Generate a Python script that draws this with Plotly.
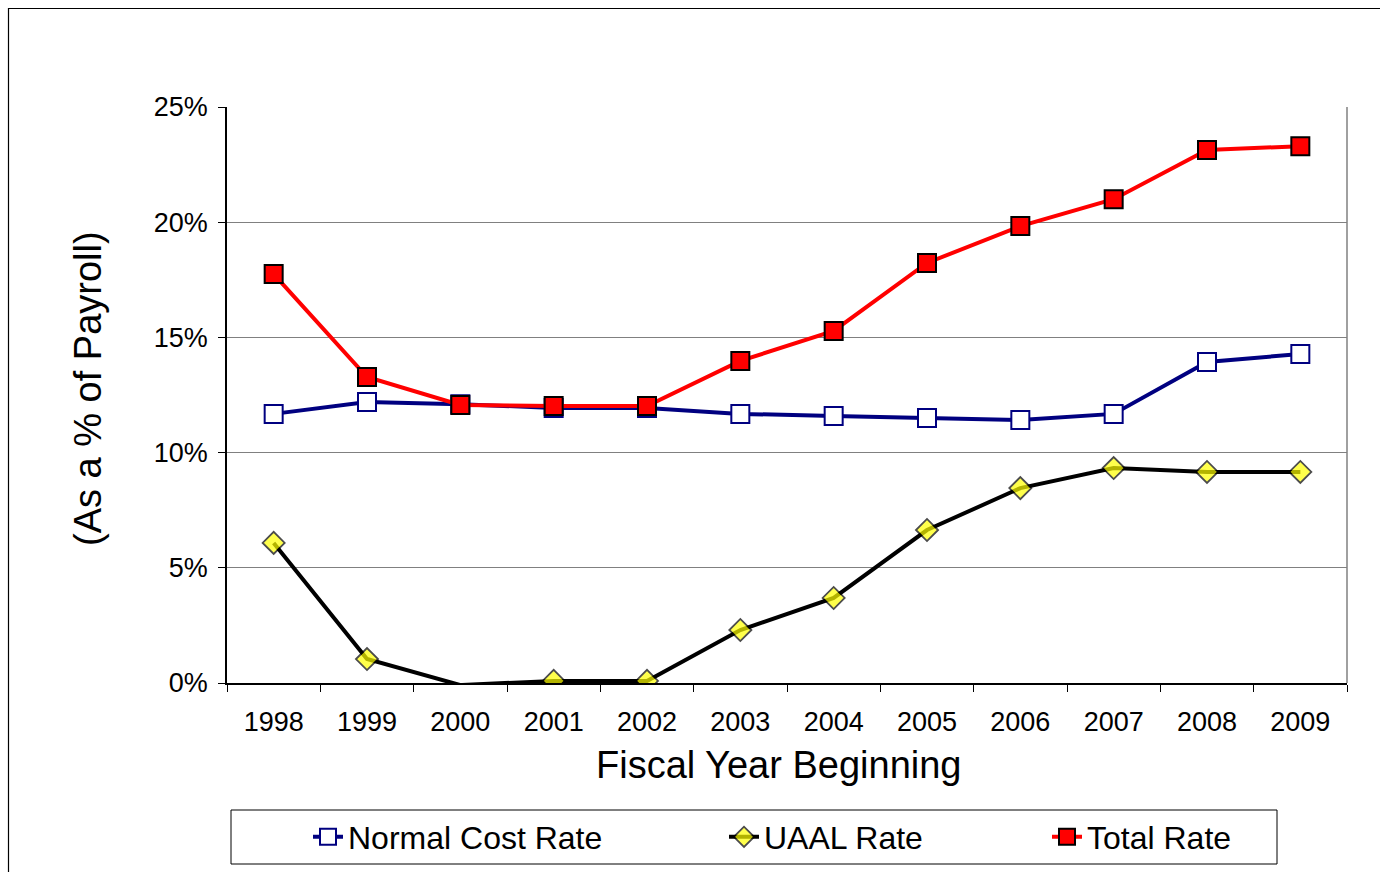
import plotly.graph_objects as go

# Contribution rates by fiscal year (percent of payroll)
years = ["1998", "1999", "2000", "2001", "2002", "2003",
         "2004", "2005", "2006", "2007", "2008", "2009"]
normal_cost_rate = [11.68, 12.2, 12.1, 11.94, 11.94, 11.68, 11.59, 11.5, 11.41, 11.68, 13.93, 14.28]
uaal_rate = [6.08, 1.04, -0.09, 0.09, 0.09, 2.3, 3.69, 6.64, 8.46, 9.33, 9.16, 9.16]
total_rate = [17.75, 13.28, 12.07, 12.02, 12.02, 13.98, 15.28, 18.23, 19.83, 21.0, 23.13, 23.3]
y_ticks = [0, 5, 10, 15, 20, 25]
y_tick_text = ["0%", "5%", "10%", "15%", "20%", "25%"]

W, H = 1380, 872
L, R, T, B = 227, 33, 107, 189
PW, PH = W - L - R, H - T - B
FONT = "Liberation Sans, Arial, sans-serif"


def px_x(v):
    return (v - L) / PW


def px_y(v):
    return (H - B - v) / PH


fig = go.Figure()

fig.add_trace(go.Scatter(
    x=years, y=normal_cost_rate, name="Normal Cost Rate", mode="lines+markers",
    line=dict(color="#000080", width=4),
    marker=dict(symbol="square", size=18, color="white", line=dict(color="#000080", width=2)),
    legend="legend",
))

# points below the axis minimum are drawn without a marker
uaal_sizes = [0 if v < 0 else 17 for v in uaal_rate]
fig.add_trace(go.Scatter(
    x=years, y=uaal_rate, name="UAAL Rate", mode="lines+markers",
    line=dict(color="black", width=4),
    marker=dict(symbol="diamond", size=uaal_sizes, color="#FFFF00", line=dict(color="black", width=1.8)),
    legend="legend2",
))

fig.add_trace(go.Scatter(
    x=years, y=total_rate, name="Total Rate", mode="lines+markers",
    line=dict(color="#FF0000", width=4),
    marker=dict(symbol="square", size=18, color="#FF0000", line=dict(color="black", width=2)),
    legend="legend3",
))

legend_common = dict(
    orientation="h", yanchor="middle", xanchor="left", y=px_y(837),
    font=dict(family=FONT, size=32, color="black"),
    bgcolor="rgba(0,0,0,0)", borderwidth=0,
)

fig.update_layout(
    width=W, height=H,
    margin=dict(l=L, r=R, t=T, b=B, autoexpand=False),
    paper_bgcolor="white", plot_bgcolor="white",
    font=dict(family=FONT, color="black"),
    showlegend=True,
    legend=dict(x=px_x(308), **legend_common),
    legend2=dict(x=px_x(724), **legend_common),
    legend3=dict(x=px_x(1047), **legend_common),
    xaxis=dict(
        type="category", range=[-0.5, 11.5], tickson="boundaries", ticks="outside", ticklen=7,
        tickcolor="black", tickwidth=1,
        showline=True, linecolor="black", linewidth=1.5, showgrid=False,
        tickfont=dict(family=FONT, size=27, color="black"),
        ticklabelstandoff=14,
    ),
    yaxis=dict(
        range=[0, 25], tickvals=y_ticks, ticktext=y_tick_text,
        ticks="outside", ticklen=7, tickcolor="black", tickwidth=1,
        showline=True, linecolor="black", linewidth=1.5,
        showgrid=True, gridcolor="#808080", gridwidth=1, zeroline=False,
        tickfont=dict(family=FONT, size=27, color="black"),
        ticklabelstandoff=5,
    ),
    annotations=[
        dict(text="Fiscal Year Beginning", xref="paper", yref="paper",
             x=px_x(778), y=px_y(765), xanchor="center", yanchor="middle", showarrow=False,
             font=dict(family=FONT, size=38, color="black")),
        dict(text="(As a % of Payroll)", xref="paper", yref="paper", textangle=-90,
             x=px_x(88), y=px_y(389), xanchor="center", yanchor="middle", showarrow=False,
             font=dict(family=FONT, size=38, color="black")),
    ],
    shapes=[
        # right edge of the plotting area
        dict(type="line", xref="paper", yref="paper", x0=1, x1=1, y0=0, y1=1,
             line=dict(color="#808080", width=1.5)),
        # legend box
        dict(type="rect", xref="paper", yref="paper",
             x0=px_x(231), x1=px_x(1277), y0=px_y(864), y1=px_y(810),
             line=dict(color="black", width=1), fillcolor="rgba(0,0,0,0)", layer="below"),
        # chart frame
        dict(type="rect", xref="paper", yref="paper",
             x0=px_x(8.5), x1=px_x(1420), y0=px_y(920), y1=px_y(8.5),
             line=dict(color="black", width=1.2), fillcolor="rgba(0,0,0,0)", layer="below"),
    ],
)

fig.write_html("out.html")
